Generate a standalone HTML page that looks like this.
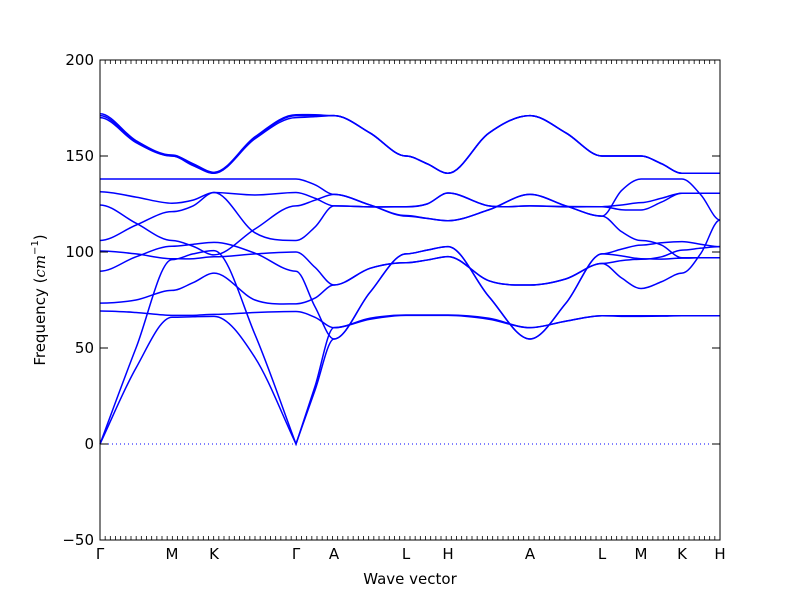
<!DOCTYPE html>
<html><head><meta charset="utf-8"><style>
body{margin:0;background:#fff;}
svg text{font-family:"DejaVu Sans","Liberation Sans",sans-serif;}
</style></head><body>
<svg id="chart" width="800" height="600" xmlns="http://www.w3.org/2000/svg">
<rect x="0" y="0" width="800" height="600" fill="#fff"/>
<g id="bands"></g>
<g id="axes"></g>
</svg>
<script>
// k-path high-symmetry positions (path distance units)
const kLabels = ["Γ","M","K","Γ","A","L","H","A","L","M","K","H"];
const kDist = [0,72,114,196,234,306,348,430,502,541,582,620];
const yTicks = [-50,0,50,100,150,200];
// Each band: values at each high-symmetry point and segment midpoint (23 samples)
const band1 = [172,158,150.5,146,141.5,160,171.5,171.5,171,162,150,146,141,162,171,162,150,150,150,146,141,141,141];
const band2 = [170,157,150,145,141,159,170,170.5,171,162,150,146,141,162,171,162,150,150,150,146,141,141,141];
const band3 = [171,157.5,150,145.5,141,159.5,171,171,171,162,150,146,141,162,171,162,150,150,150,146,141,141,141];
const band4 = [138,138,138,138,138,138,138,135,130,124.5,118.7,117.5,116.3,122,130,124,118.7,132,138,138,138,129.7,116.7];
const band5 = [131.4,128.6,125.4,127,131,129.7,131,128,124,123.5,123.5,125,130.7,124,124,123.7,123.6,124.5,125.7,128,130.6,130.6,130.6];
const band6 = [106,114,121,124,131,110,106,113,124,123.5,123.6,125,130.7,124,124,123.5,123.6,122,121.9,126,130.6,130.6,130.6];
const band7 = [124.5,115,106,103,98.5,112,124,127,130,124.5,119,117.5,116.3,122,130,124,118.7,110.6,106,103.6,97,97,97];
const band8 = [100.5,99,96.5,96.5,97.5,99,100,92,82.8,91.5,94.4,95.8,97.6,85,82.8,86,94,86.5,81,84.5,89,99.4,116.7];
const band9 = [90,97.5,103,104,105,99.4,90,71.5,54.7,79,99,101,102.8,76.7,54.7,73.4,99,101.5,103.6,104.8,105.4,104,102.8];
const band10 = [73.4,75,80,84,89,75,73,76,82.8,91.5,94.4,95.8,97.6,85,82.8,86,94,95.5,96.2,97.5,101,102,102.8];
const band11 = [69.3,68.5,67,67,67.5,68.5,69,66,60.6,65,67,67,67,65,60.6,64,66.8,66.8,66.8,66.8,66.8,66.8,66.8];
const band12 = [0,50,96,99,100.7,57,0,30,60.6,65.5,67.2,67.2,67.2,65.5,60.6,64,66.8,66.5,66.5,66.6,66.8,66.8,66.8];
const band13 = [0,39.6,66,66.3,66.5,45,0,28,54.7,79,99,101,102.8,76.7,54.7,73.4,99,98,96.5,96.3,96.8,97,97];
const bands = [band1,band2,band3,band4,band5,band6,band7,band8,band9,band10,band11,band12,band13];

const X0=100,X1=720,Y0=540,Y1=60,YMIN=-50,YMAX=200;
const kMax = kDist[kDist.length-1];
function xs(k){return X0+(k/kMax)*(X1-X0);}
function ys(f){return Y0-(f-YMIN)/(YMAX-YMIN)*(Y0-Y1);}
const NS="http://www.w3.org/2000/svg";
function mk(tag,attrs,parent){const e=document.createElementNS(NS,tag);for(const a in attrs)e.setAttribute(a,attrs[a]);parent.appendChild(e);return e;}

const gb=document.getElementById('bands');
bands.forEach((b,bi)=>{
  let d="";
  for(let s=0;s<kDist.length-1;s++){
    const ka=kDist[s],kb=kDist[s+1],km=(ka+kb)/2,h=(kb-ka)/2;
    const fa=b[2*s],fm=b[2*s+1],fb=b[2*s+2];
    const ta = fa===0 ? (fm-fa)/h : 0;
    const tb = fb===0 ? (fm-fb)/(-h) : 0;
    const tm = (fb-fa)/(2*h);
    const pts=[[ka,fa,ta],[km,fm,tm],[kb,fb,tb]];
    if(s===0) d+="M"+xs(ka).toFixed(2)+","+ys(fa).toFixed(2);
    for(let j=0;j<2;j++){
      const p=pts[j],q=pts[j+1];
      const dk=(q[0]-p[0])/3;
      d+=" C"+xs(p[0]+dk).toFixed(2)+","+ys(p[1]+p[2]*dk).toFixed(2)+" "+xs(q[0]-dk).toFixed(2)+","+ys(q[1]-q[2]*dk).toFixed(2)+" "+xs(q[0]).toFixed(2)+","+ys(q[1]).toFixed(2);
    }
  }
  const p=mk('path',{d:d,fill:'none',stroke:'#0000ff','stroke-width':1.5},gb);
  
  
});

const ga=document.getElementById('axes');
const zl=mk('line',{x1:X0,x2:X1,y1:ys(0),y2:ys(0),stroke:'#0000ff','stroke-width':1,'stroke-dasharray':'1,3'},ga);


const frame=mk('rect',{x:X0,y:Y1,width:X1-X0,height:Y0-Y1,fill:'none',stroke:'#000','stroke-width':1},ga);


for(let i=1;i<120;i++){
  const x=X0+i*(X1-X0)/120;
  const t1=mk('line',{x1:x,x2:x,y1:Y0,y2:Y0-4,stroke:'#000','stroke-width':0.8},ga);
  
  
  const t2=mk('line',{x1:x,x2:x,y1:Y1,y2:Y1+4,stroke:'#000','stroke-width':0.8},ga);
  
  
}
yTicks.forEach(v=>{
  const y=ys(v);
  const a=mk('line',{x1:X0,x2:X0+8,y1:y,y2:y,stroke:'#000','stroke-width':1},ga);
  
  
  const b=mk('line',{x1:X1,x2:X1-8,y1:y,y2:y,stroke:'#000','stroke-width':1},ga);
  
  
  const t=mk('text',{x:X0-6,y:y+5,'text-anchor':'end','font-size':15},ga);
  t.textContent=(v<0?'\u2212'+(-v):v);
  
  
});
kLabels.forEach((l,i)=>{
  const t=mk('text',{x:xs(kDist[i]),y:559,'text-anchor':'middle','font-size':15},ga);
  if(l==='Γ'){t.setAttribute('font-family','"DejaVu Serif","Liberation Serif",serif');}
  t.textContent=l;
  
  
});
const xt=mk('text',{x:410,y:584,'text-anchor':'middle','font-size':15},ga);
xt.textContent='Wave vector';


const yt=mk('text',{x:0,y:0,'text-anchor':'middle','font-size':15,transform:'translate(45,300) rotate(-90)'},ga);
yt.innerHTML='Frequency (<tspan font-style="italic" font-family="DejaVu Serif, serif">cm</tspan><tspan font-size="10" dy="-7">\u22121</tspan><tspan dy="7">)</tspan>';


</script>
</body></html>
